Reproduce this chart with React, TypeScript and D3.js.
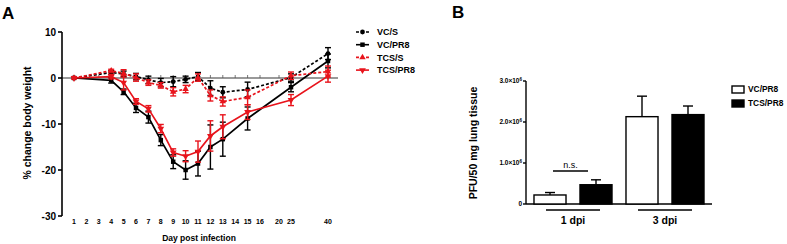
import * as d3 from 'd3';
import React from 'react';

// Panel A: body weight change
const days = [1, 4, 5, 6, 7, 8, 9, 10, 11, 12, 13, 15, 25, 40];
const tickDays = [1, 2, 3, 4, 5, 6, 7, 8, 9, 10, 11, 12, 13, 14, 15, 16, 20, 25, 40];
const yTicksA = [10, 0, -10, -20, -30];

const vcS = [0, 1.2, 0.9, 0.3, -0.4, -1.0, -0.8, -0.3, 0.3, -2.2, -3.1, -2.5, 0.1, 5.3];
const vcSErr = [0, 0.4, 0.6, 0.7, 0.8, 0.9, 1.1, 0.7, 0.9, 1.6, 1.2, 1.6, 0.8, 1.3];
const vcPR8 = [0, -0.5, -3.0, -6.5, -8.5, -13.5, -18.2, -20, -18.6, -15, -13.3, -8.8, -2.0, 3.7];
const vcPR8Err = [0, 0.6, 0.6, 1.0, 1.3, 1.2, 1.5, 2.0, 2.7, 4.8, 3.7, 2.5, 1.0, 1.5];
const tcsS = [0, 1.6, 1.0, 0.1, -1.0, -1.6, -3.0, -2.4, 0.1, -3.8, -5.1, -4.2, 0.5, 1.4];
const tcsSErr = [0, 0.3, 0.8, 0.8, 0.6, 0.6, 0.9, 0.8, 0.8, 1.2, 1.0, 1.6, 0.8, 1.2];
const tcsPR8 = [0, 0.3, -1.0, -5.1, -6.7, -11.0, -16.2, -17.0, -16.0, -12.6, -10.6, -7.4, -4.8, 0.4];
const tcsPR8Err = [0, 0.5, 1.6, 0.6, 0.7, 0.9, 0.8, 1.2, 2.3, 3.3, 2.6, 1.6, 1.2, 1.3];

const seriesA = [
  { name: 'VC/S', values: vcS, err: vcSErr, color: '#000', dash: '3,2', symbol: d3.symbolCircle, size: 18, rot: 0 },
  { name: 'VC/PR8', values: vcPR8, err: vcPR8Err, color: '#000', dash: null, symbol: d3.symbolSquare, size: 20, rot: 0 },
  { name: 'TCS/S', values: tcsS, err: tcsSErr, color: '#e8141c', dash: '3,2', symbol: d3.symbolTriangle, size: 18, rot: 0 },
  { name: 'TCS/PR8', values: tcsPR8, err: tcsPR8Err, color: '#e8141c', dash: null, symbol: d3.symbolTriangle, size: 20, rot: 180 },
];

// Panel B: lung viral titre
const groups = ['1 dpi', '3 dpi'];
const vcPFU = [0.22e6, 2.13e6];
const vcPFUErr = [0.06e6, 0.5e6];
const tcsPFU = [0.47e6, 2.18e6];
const tcsPFUErr = [0.12e6, 0.21e6];
const yTicksB = [0, 1e6, 2e6, 3e6];
const yTickLabelsB = ['0', '1.0×10', '2.0×10', '3.0×10'];

const font = 'Arial, "Liberation Sans", sans-serif';

const PanelA = () => {
  const x = d3.scaleLinear().domain([1, 16, 20, 25, 40]).range([74, 260, 279, 291, 328]);
  const y = d3.scaleLinear().domain([-30, 10]).range([216, 32]);
  const axisX = 62;

  return (
    <g fontFamily={font}>
      <text x={2} y={19} fontSize={17} fontWeight="bold">A</text>
      {/* zero line */}
      <line x1={axisX} x2={338} y1={y(0)} y2={y(0)} stroke="#777" strokeWidth={1.5} />
      {tickDays.map(d => (
        <line key={'zt' + d} x1={x(d)} x2={x(d)} y1={y(0)} y2={y(0) - 3} stroke="#555" strokeWidth={0.8} />
      ))}
      {/* y axis */}
      <line x1={axisX} x2={axisX} y1={y(10)} y2={y(-30)} stroke="#000" strokeWidth={1.6} />
      {yTicksA.map(t => (
        <g key={'ya' + t}>
          <line x1={axisX - 4} x2={axisX} y1={y(t)} y2={y(t)} stroke="#000" strokeWidth={1.6} />
          <text x={axisX - 6} y={y(t)} dy="0.35em" textAnchor="end" fontSize={10} fontWeight="bold">{t}</text>
        </g>
      ))}
      {tickDays.map(d => (
        <text key={'xl' + d} x={x(d)} y={224} textAnchor="middle" fontSize={7} fontWeight="bold" fill="#000">{d}</text>
      ))}
      <text x={199} y={241} textAnchor="middle" fontSize={8.5} fontWeight="bold">Day post infection</text>
      <text transform="translate(31,123) rotate(-90)" textAnchor="middle" fontSize={10.5} fontWeight="bold">% change body weight</text>

      {seriesA.map(s => {
        const pts = days.map((d, i) => [x(d), y(s.values[i])] as [number, number]);
        const line = d3.line()(pts) || '';
        const sym = d3.symbol().type(s.symbol).size(s.size)() || '';
        return (
          <g key={s.name}>
            <path d={line} fill="none" stroke={s.color} strokeWidth={1.7} strokeDasharray={s.dash || undefined} />
            {days.map((d, i) => {
              const e = s.err[i];
              if (!e) return null;
              const cx = x(d);
              return (
                <g key={'e' + d} stroke={s.color} strokeWidth={1.4}>
                  <line x1={cx} x2={cx} y1={y(s.values[i] + e)} y2={y(s.values[i] - e)} />
                  <line x1={cx - 3} x2={cx + 3} y1={y(s.values[i] + e)} y2={y(s.values[i] + e)} />
                  <line x1={cx - 3} x2={cx + 3} y1={y(s.values[i] - e)} y2={y(s.values[i] - e)} />
                </g>
              );
            })}
            {pts.map((p, i) => (
              <path key={'m' + i} d={sym} fill={s.color} transform={`translate(${p[0]},${p[1]}) rotate(${s.rot})`} />
            ))}
          </g>
        );
      })}

      {/* legend */}
      {seriesA.map((s, i) => {
        const ly = 32 + i * 12.7;
        const sym = d3.symbol().type(s.symbol).size(s.size)() || '';
        return (
          <g key={'lg' + s.name}>
            <line x1={356} x2={369} y1={ly} y2={ly} stroke={s.color} strokeWidth={1.6} strokeDasharray={s.dash || undefined} />
            <path d={sym} fill={s.color} transform={`translate(362.5,${ly}) rotate(${s.rot})`} />
            <text x={377} y={ly} dy="0.35em" fontSize={9} fontWeight="bold">{s.name}</text>
          </g>
        );
      })}
    </g>
  );
};

const PanelB = () => {
  const keys = groups.flatMap(g => [g + '-VC', g + '-TCS']);
  const xb = d3.scaleBand().domain(keys).range([527, 711]).paddingInner(0.304).paddingOuter(0.152);
  const y = d3.scaleLinear().domain([0, 3e6]).range([204, 81]);
  const axisX = 526;
  const bars = groups.flatMap((g, i) => [
    { key: g + '-VC', v: vcPFU[i], e: vcPFUErr[i], fill: '#fff' },
    { key: g + '-TCS', v: tcsPFU[i], e: tcsPFUErr[i], fill: '#000' },
  ]);
  const bw = xb.bandwidth();

  return (
    <g fontFamily={font}>
      <text x={452} y={18} fontSize={17} fontWeight="bold">B</text>
      <line x1={axisX} x2={axisX} y1={y(3e6)} y2={y(0)} stroke="#000" strokeWidth={1.4} />
      <line x1={axisX} x2={712} y1={y(0)} y2={y(0)} stroke="#000" strokeWidth={1.4} />
      {yTicksB.map((t, i) => (
        <g key={'yb' + t}>
          <line x1={axisX - 3} x2={axisX} y1={y(t)} y2={y(t)} stroke="#000" strokeWidth={1.4} />
          <text x={axisX - 4} y={y(t)} dy="0.35em" textAnchor="end" fontSize={6.5} fontWeight="bold">
            {yTickLabelsB[i]}
            {t > 0 && <tspan dy="-2.5" fontSize={4.5}>6</tspan>}
          </text>
        </g>
      ))}
      <text transform="translate(477,143) rotate(-90)" textAnchor="middle" fontSize={10.5} fontWeight="bold">PFU/50 mg lung  tissue</text>

      {bars.map(b => {
        const bx = xb(b.key) as number;
        const cx = bx + bw / 2;
        return (
          <g key={b.key}>
            <line x1={cx} x2={cx} y1={y(b.v)} y2={y(b.v + b.e)} stroke="#000" strokeWidth={1.4} />
            <line x1={cx - 5} x2={cx + 5} y1={y(b.v + b.e)} y2={y(b.v + b.e)} stroke="#000" strokeWidth={1.4} />
            <rect x={bx} y={y(b.v)} width={bw} height={y(0) - y(b.v)} fill={b.fill} stroke="#000" strokeWidth={1.4} />
          </g>
        );
      })}

      {groups.map(g => {
        const x0 = xb(g + '-VC') as number;
        const x1 = (xb(g + '-TCS') as number) + bw;
        const cx = (x0 + x1) / 2;
        return (
          <g key={'grp' + g}>
            <line x1={cx - 27} x2={cx + 27} y1={210} y2={210} stroke="#000" strokeWidth={1.4} />
            <text x={cx} y={224} textAnchor="middle" fontSize={10.5} fontWeight="bold">{g}</text>
          </g>
        );
      })}

      {/* n.s. bracket */}
      <line x1={553} x2={588} y1={171} y2={171} stroke="#000" strokeWidth={1.3} />
      <text x={570.5} y={167.5} textAnchor="middle" fontSize={9}>n.s.</text>

      {/* legend */}
      {['VC/PR8', 'TCS/PR8'].map((n, i) => (
        <g key={'lb' + n}>
          <rect x={732} y={86 + i * 14} width={12} height={7} fill={i === 0 ? '#fff' : '#000'} stroke="#000" strokeWidth={1.4} />
          <text x={748} y={89.5 + i * 14} dy="0.35em" fontSize={8.4} fontWeight="bold">{n}</text>
        </g>
      ))}
    </g>
  );
};

export default function App() {
  return (
    <svg width={787} height={244} style={{ position: 'absolute', left: 0, top: 0, background: '#fff' }}>
      <rect width={787} height={244} fill="#fff" />
      <PanelA />
      <PanelB />
    </svg>
  );
}
